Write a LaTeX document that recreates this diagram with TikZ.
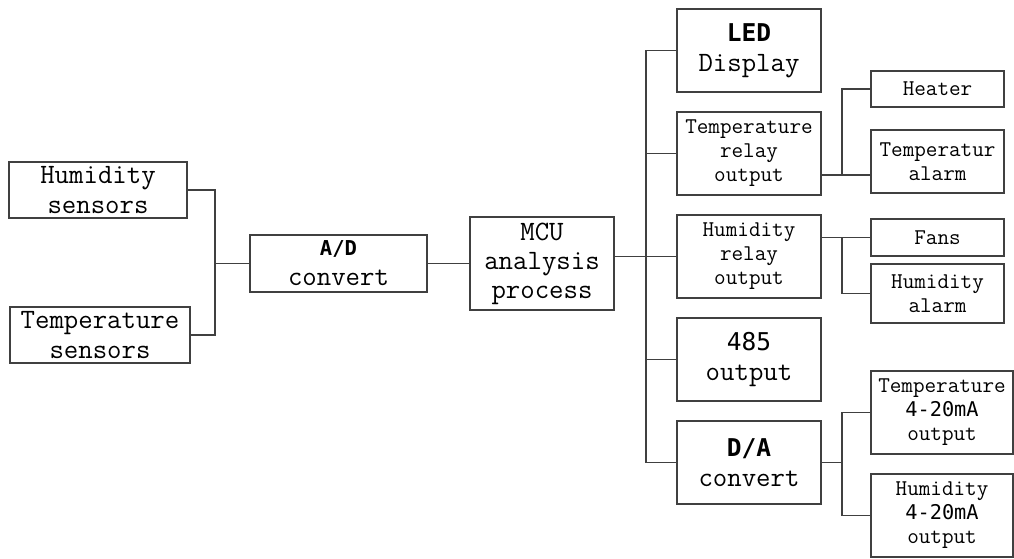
\documentclass[tikz,border=0pt]{standalone}
\usepackage{fontspec}
\newfontfamily\hei{DejaVu Sans Mono}
\newcommand\heibig{\hei\fontsize{24.5}{30}\selectfont}
\newcommand\heismall{\hei\fontsize{20.3}{24}\selectfont}
\usepackage{tikz}

\begin{document}
\begin{tikzpicture}[
  x = 1pt, y = -1pt,
  node distance = 103pt,
  block/.style={rectangle, draw=black!75, line width=1.6pt, text centered, align=center,
    inner sep=0pt},
  block_big/.style={block, font=\ttfamily\fontsize{28}{30}\selectfont,
    minimum width = 144pt, minimum height = 83pt},
  block_small/.style={block, font=\ttfamily\fontsize{22.5}{24}\selectfont,
    minimum width = 144pt, minimum height = 83pt},
  block_end/.style={block_small, minimum width = 133pt},
  line/.style={draw=black!75, line width=1.6pt, -}
  ]
\useasboundingbox (0,0) rectangle (1014,558);

% sensors and A/D
\node [block_big, minimum width = 178pt, minimum height = 56pt] (hum_sens) at (98,190) {Humidity\\sensors};
\node [block_big, minimum width = 180pt, minimum height = 56pt] (temp_sens) at (100,335) {Temperature\\sensors};
\node [block_big, minimum width = 177pt, minimum height = 57pt] (ad) at (338.5,263.5)
  {{\hei\bfseries\fontsize{20.5}{30}\selectfont A/D}\\convert};
\node [block_big, minimum height = 93pt, font=\ttfamily\fontsize{28}{29}\selectfont] (mcu) at (542,263.5)
  {MCU\\analysis\\process};

% outputs of the MCU
\node [block_big] (led) at (749,50.5) {{\heibig\bfseries LED}\\Display};
\node [block_small, below of=led] (temp_relay) {Temperature\\relay\\output};
\node [block_small, below of=temp_relay] (hum_relay) {Humidity\\relay\\output};
\node [block_big, below of=hum_relay] (rs485) {{\heibig 485}\\output};
\node [block_big, below of=rs485] (da) {{\heibig\bfseries D/A}\\convert};

% relay and current outputs
\node [block_end, minimum height = 36pt] (heater) at (937.5,89) {Heater};
\node [block_end, minimum height = 63pt] (temp_alarm) at (937.5,161.5) {Temperatur\\alarm};
\node [block_end, minimum height = 37pt] (fans) at (937.5,237.5) {Fans};
\node [block_end, minimum height = 59pt] (hum_alarm) at (937.5,293.5) {Humidity\\alarm};
\node [block_small, minimum width = 142pt] (ma_temp) at (942,412.5) {Temperature\\{\heismall 4-20mA}\\output};
\node [block_small, minimum width = 142pt] (ma_hum) at (942,515.5) {Humidity\\{\heismall 4-20mA}\\output};

\coordinate (ad_bus) at (215,263.5);
\coordinate (bus_end) at (646,462.5);
\coordinate (heat_bus) at (842,175);
\coordinate (fan_bus) at (842,293.5);
\coordinate (ma_bus) at (842,462.5);

\path [line] (hum_sens) -| (ad_bus) -- (ad);
\path [line] (temp_sens) -| (ad_bus);
\path [line] (ad) -- (mcu);

\path [line] (led) -| (bus_end) -- (da);
\path [line] (temp_relay) -- (temp_relay -| bus_end);
\path [line] (mcu.east |- hum_relay) -- (hum_relay);
\path [line] (rs485) -- (rs485 -| bus_end);

\path [line] (heater) -| (heat_bus) -- (heat_bus -| temp_alarm.west);
\path [line] (temp_relay.east |- heat_bus) -- (heat_bus);
\path [line] (hum_relay.east |- fans) -- (fans);
\path [line] (fans -| fan_bus) -- (fan_bus) -- (hum_alarm);
\path [line] (da) -- (ma_bus);
\path [line] (ma_temp) -| (ma_bus) |- (ma_hum);
\end{tikzpicture}
\end{document}
